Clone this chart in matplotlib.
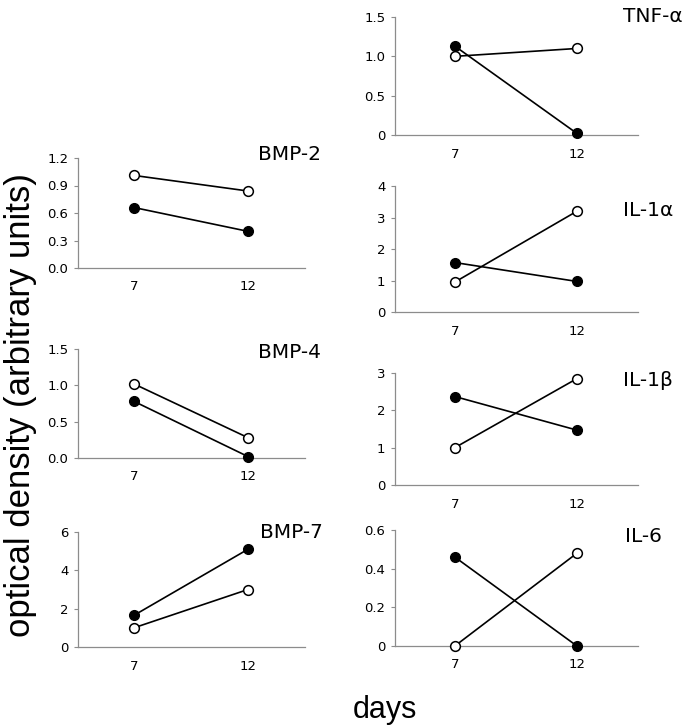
import matplotlib

matplotlib.use("Agg")
import matplotlib.pyplot as plt

DAYS = [7, 12]

# filled circles / open circles, per cytokine or BMP
TNF_FILLED = [1.13, 0.02]
TNF_OPEN = [1.0, 1.1]
BMP2_FILLED = [0.66, 0.40]
BMP2_OPEN = [1.01, 0.84]
IL1A_FILLED = [1.57, 0.97]
IL1A_OPEN = [0.95, 3.2]
BMP4_FILLED = [0.78, 0.02]
BMP4_OPEN = [1.02, 0.28]
IL1B_FILLED = [2.37, 1.47]
IL1B_OPEN = [1.0, 2.85]
BMP7_FILLED = [1.65, 5.1]
BMP7_OPEN = [1.0, 3.0]
IL6_FILLED = [0.46, 0.0]
IL6_OPEN = [0.0, 0.48]

BMP2_TICKS = ["0.0", "0.3", "0.6", "0.9", "1.2"]
BMP4_TICKS = ["0.0", "0.5", "1.0", "1.5"]
BMP7_TICKS = ["0", "2", "4", "6"]
TNF_TICKS = ["0", "0.5", "1.0", "1.5"]
IL1A_TICKS = ["0", "1", "2", "3", "4"]
IL1B_TICKS = ["0", "1", "2", "3"]
IL6_TICKS = ["0", "0.2", "0.4", "0.6"]

W, H = 685, 725
AXIS_GRAY = "#8c8c8c"
LEFT_X = (78, 305)
RIGHT_X = (395, 638)

# (title, filled, open, tick labels, column, top px, bottom px, title x px, title centre y px)
PANELS = [
    ("TNF-\u03b1", TNF_FILLED, TNF_OPEN, TNF_TICKS, RIGHT_X, 17, 135, 623, 16),
    ("BMP-2", BMP2_FILLED, BMP2_OPEN, BMP2_TICKS, LEFT_X, 158, 268, 258, 155),
    ("IL-1\u03b1", IL1A_FILLED, IL1A_OPEN, IL1A_TICKS, RIGHT_X, 186, 312, 623, 210),
    ("BMP-4", BMP4_FILLED, BMP4_OPEN, BMP4_TICKS, LEFT_X, 349, 458, 258, 353),
    ("IL-1\u03b2", IL1B_FILLED, IL1B_OPEN, IL1B_TICKS, RIGHT_X, 373, 485, 623, 381),
    ("BMP-7", BMP7_FILLED, BMP7_OPEN, BMP7_TICKS, LEFT_X, 532, 647, 260, 533),
    ("IL-6", IL6_FILLED, IL6_OPEN, IL6_TICKS, RIGHT_X, 530, 646, 625, 537),
]


def draw_panel(fig, title, filled, open_, ticks, cols, top, bottom, tx, ty):
    x0, x1 = cols
    ax = fig.add_axes([x0 / W, 1 - bottom / H, (x1 - x0) / W, (bottom - top) / H])
    values = [float(t) for t in ticks]
    ax.plot(DAYS, filled, color="black", linewidth=1.2, marker="o", markersize=7,
            markerfacecolor="black", markeredgecolor="black", clip_on=False, zorder=3)
    ax.plot(DAYS, open_, color="black", linewidth=1.2, marker="o", markersize=7,
            markerfacecolor="white", markeredgecolor="black", markeredgewidth=1.1,
            clip_on=False, zorder=3)
    ax.set_xlim(4.55, 14.5)
    ax.set_ylim(values[0], values[-1])
    ax.set_yticks(values, labels=ticks)
    ax.set_xticks(DAYS, labels=[str(d) for d in DAYS])
    for side in ("top", "right"):
        ax.spines[side].set_visible(False)
    for side in ("left", "bottom"):
        ax.spines[side].set_color(AXIS_GRAY)
        ax.spines[side].set_linewidth(0.9)
    ax.tick_params(axis="y", length=3, width=0.8, color=AXIS_GRAY, labelsize=9.5, pad=4)
    ax.tick_params(axis="x", length=0, labelsize=9.5, pad=9)
    ax.patch.set_alpha(0)
    fig.text(tx / W, 1 - ty / H, title, fontsize=14.5, ha="left", va="center")
    return ax


def main() -> None:
    fig = plt.figure(figsize=(W / 100, H / 100), dpi=100)
    for panel in PANELS:
        draw_panel(fig, *panel)
    fig.text(21 / W, 1 - 405 / H, "optical density (arbitrary units)", rotation=90,
             fontsize=25, family="Liberation Sans", ha="center", va="center")
    fig.text(385 / W, 1 - 710 / H, "days", fontsize=22, family="Liberation Sans",
             ha="center", va="center")
    fig.savefig("out.png", dpi=100)
    plt.close(fig)


if __name__ == "__main__":
    main()
